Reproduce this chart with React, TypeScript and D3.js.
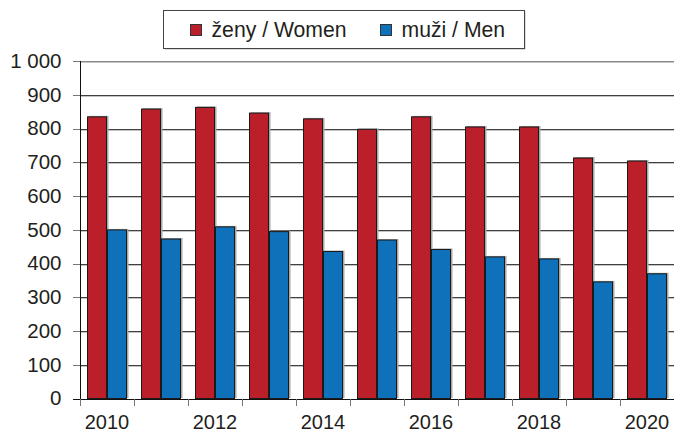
import * as d3 from 'd3';

const years = ['2010', '2011', '2012', '2013', '2014', '2015', '2016', '2017', '2018', '2019', '2020'];
const women = [836, 859, 864, 847, 830, 799, 836, 806, 806, 714, 705];
const men = [501, 474, 510, 496, 437, 471, 443, 421, 415, 347, 371];
const yTicks = [0, 100, 200, 300, 400, 500, 600, 700, 800, 900, 1000];
const xLabels = ['2010', '2012', '2014', '2016', '2018', '2020'];
const seriesNames = ['ženy / Women', 'muži / Men'];
const seriesColors = ['#BB1F29', '#0F71B9'];

const W = 674;
const H = 432;
const FONT = 'Liberation Sans, Arial, sans-serif';

export default function App() {
  const x = d3
    .scaleBand<string>()
    .domain(years)
    .range([80, 674])
    .paddingInner(14 / 54)
    .paddingOuter(7 / 54);
  const sub = d3.scaleBand<number>().domain([0, 1]).range([0, x.bandwidth()]);
  const y = d3.scaleLinear().domain([0, 1000]).range([398.5, 61]);
  const step = x.step();
  const fmt = (v: number) => d3.format(',')(v).replace(',', ' ');

  const series = [women, men];

  return (
    <div style={{ position: 'absolute', left: 0, top: 0 }}>
      <svg width={W} height={H} style={{ display: 'block', background: '#fff' }}>
        {/* gridlines */}
        {yTicks.filter((t) => t > 0).map((t) => (
          <g key={t}>
            <line x1={80} x2={674} y1={Math.round(y(t)) + 1.5} y2={Math.round(y(t)) + 1.5} stroke="#c4c4c4" />
            <line x1={80} x2={674} y1={Math.round(y(t)) + 0.5} y2={Math.round(y(t)) + 0.5} stroke={t === 1000 ? '#8a8a8a' : '#404040'} />
          </g>
        ))}

        {/* y ticks and labels */}
        {yTicks.map((t) => (
          <g key={t}>
            <line x1={73} x2={80} y1={Math.round(y(t)) + 0.5} y2={Math.round(y(t)) + 0.5} stroke="#777" />
            <text
              x={61.5}
              y={y(t) - 0.5}
              dy="0.36em"
              textAnchor="end"
              fontFamily={FONT}
              fontSize={20.5}
              fill="#231f20"
            >
              {fmt(t)}
            </text>
          </g>
        ))}

        {/* bars */}
        {years.map((yr, i) => (
          <g key={yr}>
            {series.map((vals, s) => {
              const bx = (x(yr) ?? 0) + (sub(s) ?? 0);
              const by = y(vals[i]);
              const bh = y(0) - by;
              return (
                <g key={s}>
                  <rect x={bx + 1.5} y={by - 0.5} width={sub.bandwidth()} height={bh} fill="#a8a8a8" />
                  <rect
                    x={bx + 0.5}
                    y={by + 0.5}
                    width={sub.bandwidth() - 1}
                    height={bh - 0.5}
                    fill={seriesColors[s]}
                    stroke="#1a1a1a"
                    strokeWidth={1}
                  />
                </g>
              );
            })}
          </g>
        ))}

        {/* axes */}
        <line x1={80.5} x2={80.5} y1={61} y2={399} stroke="#111" />
        <line x1={73} x2={674} y1={399.5} y2={399.5} stroke="#111" />
        {d3.range(years.length + 1).map((k) => (
          <line
            key={k}
            x1={80.5 + k * step}
            x2={80.5 + k * step}
            y1={399}
            y2={406}
            stroke="#777"
          />
        ))}
        {xLabels.map((l) => (
          <text
            key={l}
            x={(x(l) ?? 0) + x.bandwidth() / 2}
            y={429}
            textAnchor="middle"
            fontFamily={FONT}
            fontSize={20}
            fill="#231f20"
          >
            {l}
          </text>
        ))}

        {/* legend */}
        <rect x={164.5} y={11.5} width={361} height={38} fill="#bbb" />
        <rect x={163.5} y={10.5} width={361} height={38} fill="#fff" stroke="#444" />
        {seriesNames.map((n, s) => {
          const lx = s === 0 ? 190.5 : 380.5;
          return (
            <g key={n}>
              <rect x={lx} y={24.5} width={11} height={11} fill={seriesColors[s]} stroke="#333" />
              <text x={lx + 21} y={37} fontFamily={FONT} fontSize={21.2} fill="#231f20">
                {n}
              </text>
            </g>
          );
        })}
      </svg>
    </div>
  );
}
